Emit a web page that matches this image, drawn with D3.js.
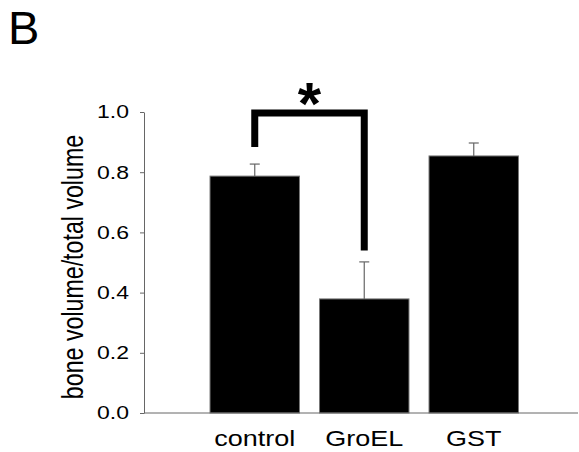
<!DOCTYPE html>
<html>
<head>
<meta charset="utf-8">
<script src="https://cdn.jsdelivr.net/npm/d3@7"></script>
<style>
  body { margin: 0; background: #fff; }
  text { font-family: "Liberation Sans", Arial, sans-serif; }
</style>
</head>
<body>
<svg id="chart" width="579" height="452"></svg>
<script>
// data
var groups = ["control", "GroEL", "GST"];
var means = [0.787, 0.379, 0.854];
var sems = [0.040, 0.123, 0.043];
var yTicks = [0.0, 0.2, 0.4, 0.6, 0.8, 1.0];
// significance bracket: pair, [level, leftEnd, rightEnd], label
var bracketPair = ["control", "GroEL"];
var bracketLevels = [0.997, 0.884, 0.54];
var bracketLabel = "*";

var svg = d3.select("#chart");
var squash = 0.8; // figure text is compressed vertically

var y = d3.scaleLinear().domain([0, 1]).range([413, 112]);
var x = d3.scaleBand().domain(groups).range([200, 528.5])
  .paddingInner(0.183).paddingOuter(0.0915);

var axisX = 144;

// panel letter
svg.append("text")
  .attr("x", 8).attr("y", 44)
  .attr("font-size", 47)
  .text("B");

// bars
var data = groups.map(function(g, i) { return {g: g, m: means[i], e: sems[i]}; });

svg.selectAll(".bar")
  .data(data).enter()
  .append("rect")
  .attr("class", "bar")
  .attr("x", function(d) { return x(d.g); })
  .attr("width", x.bandwidth())
  .attr("y", function(d) { return y(d.m); })
  .attr("height", function(d) { return y(0) - y(d.m); })
  .attr("fill", "#000")
  .attr("stroke", "#777")
  .attr("stroke-width", 1);

// error bars (upper only)
var eb = svg.selectAll(".err").data(data).enter().append("g").attr("class", "err")
  .attr("stroke", "#666").attr("stroke-width", 1.2);
eb.append("line")
  .attr("x1", function(d) { return x(d.g) + x.bandwidth() / 2; })
  .attr("x2", function(d) { return x(d.g) + x.bandwidth() / 2; })
  .attr("y1", function(d) { return y(d.m); })
  .attr("y2", function(d) { return y(d.m + d.e); });
eb.append("line")
  .attr("x1", function(d) { return x(d.g) + x.bandwidth() / 2 - 5; })
  .attr("x2", function(d) { return x(d.g) + x.bandwidth() / 2 + 5; })
  .attr("y1", function(d) { return y(d.m + d.e); })
  .attr("y2", function(d) { return y(d.m + d.e); });

// y axis
var yAxis = svg.append("g")
  .attr("transform", "translate(" + axisX + ",0)")
  .call(d3.axisLeft(y).tickValues(yTicks).tickFormat(d3.format(".1f"))
    .tickSize(4).tickSizeOuter(0).tickPadding(11));
yAxis.selectAll("path, line").attr("stroke", "#666");
yAxis.selectAll("text")
  .attr("font-size", 23)
  .attr("fill", "#000")
  .attr("font-family", "Liberation Sans, Arial, sans-serif")
  .attr("transform", "scale(1," + squash + ")");

// x axis line
svg.append("line")
  .attr("x1", axisX).attr("x2", 578)
  .attr("y1", y(0)).attr("y2", y(0))
  .attr("stroke", "#666");

// category labels
svg.selectAll(".xlab")
  .data(groups).enter()
  .append("text")
  .attr("class", "xlab")
  .attr("text-anchor", "middle")
  .attr("font-size", 27)
  .attr("transform", function(d) {
    return "translate(" + (x(d) + x.bandwidth() / 2) + ",446) scale(1," + squash + ")";
  })
  .text(function(d) { return d; });

// y axis title
svg.append("text")
  .attr("text-anchor", "middle")
  .attr("font-size", 29)
  .attr("transform", "translate(83,267) rotate(-90) scale(" + squash + ",1)")
  .text("bone volume/total volume");

// significance bracket
var bx1 = x(bracketPair[0]) + x.bandwidth() / 2;
var bx2 = x(bracketPair[1]) + x.bandwidth() / 2;
svg.append("path")
  .attr("d", d3.line()([
    [bx1, y(bracketLevels[1])],
    [bx1, y(bracketLevels[0])],
    [bx2, y(bracketLevels[0])],
    [bx2, y(bracketLevels[2])]
  ]))
  .attr("fill", "none")
  .attr("stroke", "#000")
  .attr("stroke-width", 7)
  .attr("stroke-linejoin", "miter");

svg.append("text")
  .attr("x", (bx1 + bx2) / 2)
  .attr("y", 124)
  .attr("text-anchor", "middle")
  .attr("font-size", 60)
  .attr("font-weight", "bold")
  .text(bracketLabel);
</script>
</body>
</html>
